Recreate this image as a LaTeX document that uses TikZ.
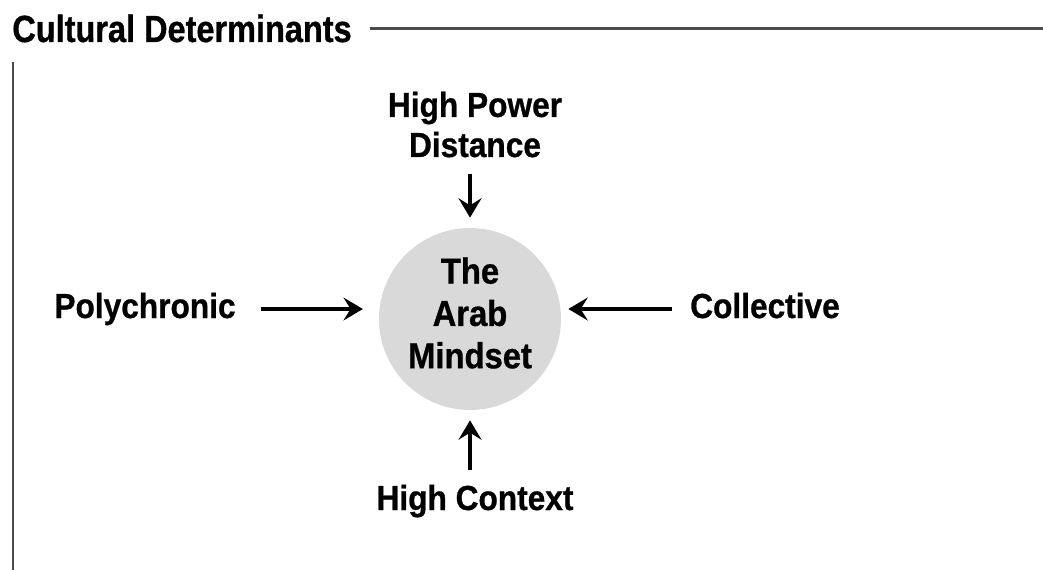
\documentclass[tikz,border=0pt]{standalone}
\usepackage{fontspec}
\setsansfont{Liberation Sans}[FakeStretch=0.91, BoldFeatures={FakeBold=0.8}]
\newfontfamily\headfont{Liberation Sans}[FakeStretch=0.86, BoldFeatures={FakeBold=0.8}]
\usepackage{tikz}
\usetikzlibrary{arrows.meta}

\begin{document}
\begin{tikzpicture}[
  x=0.02cm, y=0.02cm,
  heading/.style={inner sep=0pt, font=\fontsize{21.5}{24}\selectfont\headfont\bfseries},
  factor/.style={inner sep=0pt, align=center, font=\fontsize{19.8}{22.8}\selectfont\sffamily\bfseries},
  mindset/.style={circle, fill=black!15, minimum size=3.64cm, inner sep=0pt, align=center, text depth=7pt, font=\fontsize{20.5}{24.1}\selectfont\sffamily\bfseries},
  push/.style={-{Stealth[length=11pt, width=13pt, inset=4pt]}, line width=2pt},
  rule/.style={line width=1.3pt, black!70},
]
  \useasboundingbox (0,0) rectangle (1043,-570);

  % Heading and frame
  \node[heading, anchor=base west] (title) at (12,-42) {Cultural Determinants};
  \coordinate (rend) at (1043,-31);
  \coordinate (vtop) at (13,-62);
  \coordinate (vbot) at (13,-570);
  \draw[rule] ([xshift=10pt]title.east) -- (title.east -| rend);
  \draw[rule] (vtop) -- (vbot);

  % Centre
  \node[mindset] (mind) at (470,-319) {The\\Arab\\Mindset};

  % Determinants (base = last line)
  \node[factor, anchor=base] (hpd) at (475,-157) {High Power\\Distance};
  \node[factor, anchor=base] (poly) at (145,-318) {Polychronic};
  \node[factor, anchor=base] (coll) at (765,-318) {Collective};
  \node[factor, anchor=base] (hc) at (475,-510) {High Context};

  % Arrows into the centre
  \draw[push, shorten <=9pt, shorten >=5.7pt] (hpd.south -| mind) -- (mind.north);
  \draw[push, shorten <=8.5pt, shorten >=5.7pt] (hc.north -| mind) -- (mind.south);
  \draw[push, shorten <=14pt, shorten >=9pt] (poly.east) -- (mind.west |- poly.east);
  \draw[push, shorten <=10pt, shorten >=4pt] (coll.west |- poly.east) -- (mind.east |- poly.east);

\end{tikzpicture}
\end{document}
